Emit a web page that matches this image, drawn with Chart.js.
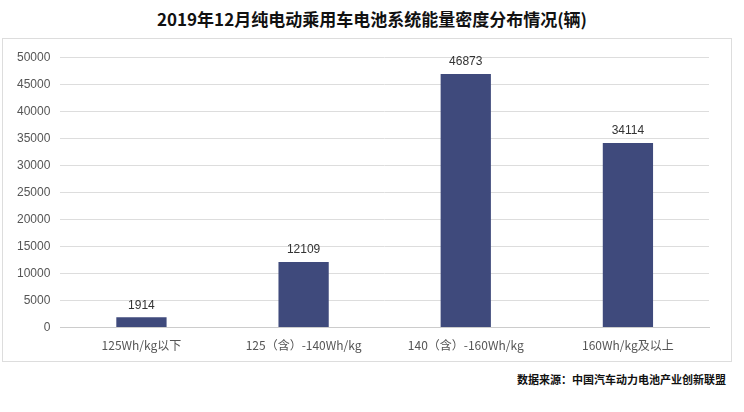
<!DOCTYPE html>
<html><head><meta charset="utf-8">
<script src="https://cdn.jsdelivr.net/npm/chart.js@4"></script>
<style>
body{margin:0;width:744px;height:412px;background:#fff;font-family:"Noto Sans CJK SC",sans-serif;position:relative}
#title{position:absolute;top:6px;left:0;width:744px;text-align:center;font-size:17px;font-weight:bold;color:#111}
#box{position:absolute;left:2px;top:38px;width:728px;height:322px;border:1px solid #ddd}
#src{position:absolute;right:18px;top:371px;font-size:11px;font-weight:bold;color:#111}
#wrap{position:absolute;left:4px;top:40px;width:722px;height:318px}
</style></head><body>
<div id="title">2019年12月纯电动乘用车电池系统能量密度分布情况(辆)</div>
<div id="box"></div>
<div id="wrap"><canvas id="c"></canvas></div>
<div id="src">数据来源：中国汽车动力电池产业创新联盟</div>
<script>
const categories=["125Wh/kg以下","125（含）-140Wh/kg","140（含）-160Wh/kg","160Wh/kg及以上"];
const values=[1914,12109,46873,34114];
const labelPlugin={id:'lbl',afterDatasetsDraw(ch){const ctx=ch.ctx;const m=ch.getDatasetMeta(0);ctx.save();ctx.font='12px "Liberation Sans",Arial';ctx.fillStyle='#333';ctx.textAlign='center';ctx.textBaseline='bottom';m.data.forEach((b,i)=>ctx.fillText(values[i],b.x,b.y-6));ctx.restore();}};
new Chart(document.getElementById('c'),{type:'bar',data:{labels:categories,datasets:[{data:values,backgroundColor:'#3f4a7c',barPercentage:0.31,categoryPercentage:1}]},
options:{responsive:true,maintainAspectRatio:false,animation:false,layout:{padding:{top:8,right:17,left:3,bottom:2}},plugins:{legend:{display:false},tooltip:{enabled:false}},
scales:{y:{min:0,max:50000,ticks:{stepSize:5000,padding:10,color:'#555',font:{family:'Liberation Sans',size:12},callback:v=>String(v)},grid:{color:'#ddd',drawTicks:false},border:{display:false}},
x:{ticks:{color:'#555',font:{family:'Noto Sans CJK SC',size:12}},grid:{display:false},border:{color:'#ccc'}}}},plugins:[labelPlugin]});
</script></body></html>
